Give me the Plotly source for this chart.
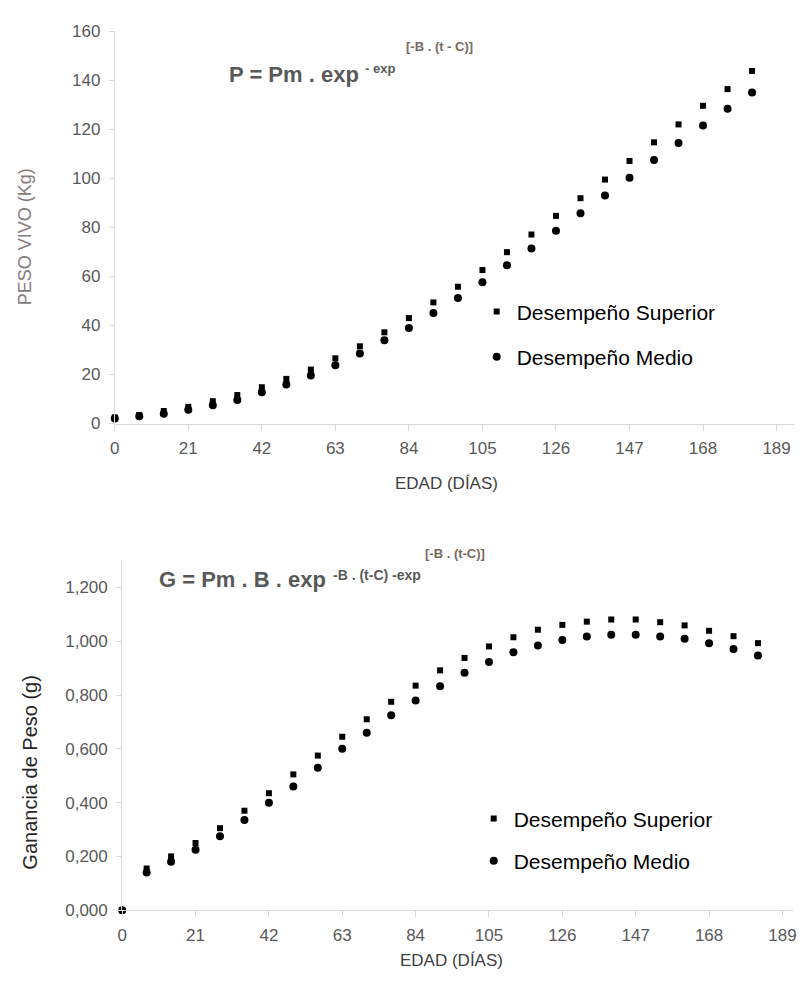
import plotly.graph_objects as go

# ---------------- data ----------------
dias = [0, 7, 14, 21, 28, 35, 42, 49, 56, 63, 70, 77, 84, 91, 98, 105,
        112, 119, 126, 133, 140, 147, 154, 161, 168, 175, 182]

peso_superior = [2.5, 3.5, 5.1, 6.8, 9.1, 11.6, 14.8, 18.2, 22.0, 26.6, 31.5,
                 37.2, 43.0, 49.4, 55.8, 62.6, 69.9, 77.1, 84.7, 91.9, 99.5,
                 107.1, 114.7, 122.0, 129.6, 136.4, 143.8]
peso_medio = [2.0, 3.0, 4.0, 5.6, 7.4, 9.6, 12.8, 15.9, 19.6, 23.8, 28.6,
              34.0, 39.0, 45.1, 51.2, 57.6, 64.6, 71.4, 78.6, 85.8, 93.0,
              100.2, 107.5, 114.4, 121.6, 128.4, 135.0]

ganancia_superior = [0.000, 0.155, 0.200, 0.250, 0.305, 0.370, 0.435, 0.505,
                     0.575, 0.645, 0.710, 0.775, 0.835, 0.892, 0.938, 0.981,
                     1.015, 1.043, 1.061, 1.073, 1.081, 1.081, 1.071, 1.059,
                     1.039, 1.019, 0.993]
ganancia_medio = [0.000, 0.140, 0.180, 0.225, 0.275, 0.335, 0.400, 0.460,
                  0.530, 0.600, 0.660, 0.725, 0.780, 0.833, 0.883, 0.923,
                  0.959, 0.984, 1.005, 1.018, 1.024, 1.024, 1.018, 1.009,
                  0.993, 0.971, 0.947]

x_ticks = [0, 21, 42, 63, 84, 105, 126, 147, 168, 189]
peso_ticks = [0, 20, 40, 60, 80, 100, 120, 140, 160]
gan_ticks = [0.0, 0.2, 0.4, 0.6, 0.8, 1.0, 1.2]
gan_ticktext = ["0,000", "0,200", "0,400", "0,600", "0,800", "1,000", "1,200"]

serie_sup = "Desempeño Superior"
serie_med = "Desempeño Medio"

# ---------------- figure ----------------
W, H = 806, 981
def px(x):
    return x / W
def py(y):
    return 1 - y / H

fig = go.Figure()

fig.add_trace(go.Scatter(x=dias, y=peso_superior, mode="markers", name=serie_sup,
                         marker=dict(symbol="square", size=6, color="black"),
                         xaxis="x", yaxis="y", legend="legend", legendgroup="a",
                         cliponaxis=False))
fig.add_trace(go.Scatter(x=dias, y=peso_medio, mode="markers", name=serie_med,
                         marker=dict(symbol="circle", size=8, color="black"),
                         xaxis="x", yaxis="y", legend="legend", legendgroup="b",
                         cliponaxis=False))
fig.add_trace(go.Scatter(x=dias, y=ganancia_superior, mode="markers", name=serie_sup,
                         marker=dict(symbol="square", size=6, color="black"),
                         xaxis="x2", yaxis="y2", legend="legend2", legendgroup="c",
                         cliponaxis=False))
fig.add_trace(go.Scatter(x=dias, y=ganancia_medio, mode="markers", name=serie_med,
                         marker=dict(symbol="circle", size=8, color="black"),
                         xaxis="x2", yaxis="y2", legend="legend2", legendgroup="d",
                         cliponaxis=False))

axis_line = "#d9d9d9"
tick_font = dict(family="Liberation Sans Narrow, Liberation Sans, Arial", size=17, color="#595959")
ytick_font = dict(family="Liberation Sans, Arial", size=17, color="#595959")

common_x = dict(showgrid=False, zeroline=False, showline=True, linecolor=axis_line,
                linewidth=1, ticks="outside", ticklen=6, tickcolor=axis_line,
                tickfont=tick_font, tickvals=x_ticks, ticklabelstandoff=3)
common_y = dict(showgrid=False, zeroline=False, showline=True, linecolor=axis_line,
                linewidth=1, ticks="outside", ticklen=5, tickcolor=axis_line,
                tickfont=ytick_font, ticklabelstandoff=5)

fig.update_layout(
    width=W, height=H,
    margin=dict(l=0, r=0, t=0, b=0),
    paper_bgcolor="white", plot_bgcolor="white",
    showlegend=True,
    xaxis=dict(domain=[px(111), px(798)], range=[0, 194], anchor="y", **common_x),
    yaxis=dict(domain=[py(422.7), py(22.7)], range=[0, 160], anchor="x",
               tickvals=peso_ticks, **common_y),
    xaxis2=dict(domain=[px(118.5), px(796.8)], range=[0, 192], anchor="y2", **common_x),
    yaxis2=dict(domain=[py(919), py(562.5)], range=[0, 1.3], anchor="x2",
                tickvals=gan_ticks, ticktext=gan_ticktext, **common_y),
    legend=dict(x=px(477), y=py(288), xanchor="left", yanchor="top",
                bgcolor="rgba(0,0,0,0)", tracegroupgap=15,
                font=dict(family="Liberation Sans, Arial", size=21, color="black")),
    legend2=dict(x=px(474), y=py(805), xanchor="left", yanchor="top",
                 bgcolor="rgba(0,0,0,0)", tracegroupgap=12,
                 font=dict(family="Liberation Sans, Arial", size=21, color="black")),
)

formula_color = "#595959"
bracket_color = "#776b60"
annots = [
    # top formula
    dict(text="<b>P = Pm . exp</b>", x=px(225), y=py(67), size=22, color=formula_color),
    dict(text="<b>- exp</b>", x=px(362), y=py(61), size=13, color=formula_color),
    dict(text="<b>[-B . (t - C)]</b>", x=px(403), y=py(38), size=13, color=bracket_color),
    # bottom formula
    dict(text="<b>G = Pm . B . exp</b>", x=px(154), y=py(582), size=22, color=formula_color),
    dict(text="<b>-B . (t-C) -exp</b>", x=px(330), y=py(577), size=14, color=formula_color),
    dict(text="<b>[-B . (t-C)]</b>", x=px(423), y=py(555), size=13, color=bracket_color),
]
for a in annots:
    fig.add_annotation(text=a["text"], x=a["x"], y=a["y"], xref="paper", yref="paper",
                       xanchor="left", yanchor="middle", showarrow=False,
                       font=dict(family="Liberation Sans, Arial", size=a["size"], color=a["color"]))

# axis titles
titles = [
    dict(text="EDAD (DÍAS)", x=px(446), y=py(484), angle=0, size=17, color="#404040",
         family="Liberation Sans Narrow, Liberation Sans, Arial"),
    dict(text="EDAD (DÍAS)", x=px(452), y=py(970), angle=0, size=17, color="#404040",
         family="Liberation Sans Narrow, Liberation Sans, Arial"),
    dict(text="PESO VIVO (Kg)", x=px(20), y=py(232), angle=-90, size=18, color="#857a7a",
         family="Liberation Sans, Arial"),
    dict(text="Ganancia de Peso (g)", x=px(25), y=py(778), angle=-90, size=20, color="#262626",
         family="Liberation Sans, Arial"),
]
for t in titles:
    fig.add_annotation(text=t["text"], x=t["x"], y=t["y"], xref="paper", yref="paper",
                       xanchor="center", yanchor="middle", showarrow=False, textangle=t["angle"],
                       font=dict(family=t["family"], size=t["size"], color=t["color"]))

fig.write_html("out.html")
